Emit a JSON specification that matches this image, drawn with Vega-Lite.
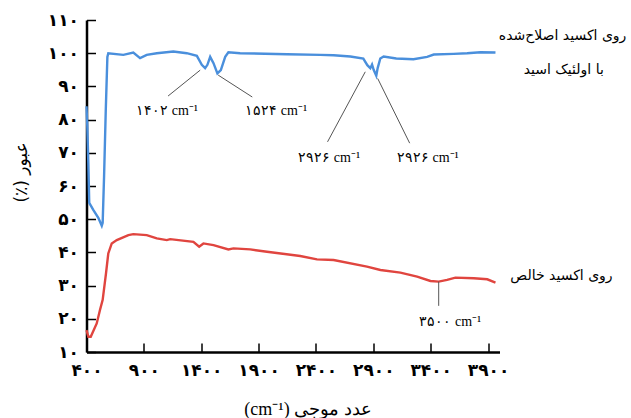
{
  "$schema": "https://vega.github.io/schema/vega-lite/v6.json",
  "autosize": {"type": "none"},
  "padding": {"left": 86.5, "top": 20, "right": 131.5, "bottom": 66},
  "width": 413,
  "height": 332,
  "config": {
    "view": {"stroke": null},
    "locale": {
      "number": {
        "decimal": ".",
        "thousands": "",
        "grouping": [3],
        "currency": ["", ""],
        "numerals": ["۰", "۱", "۲", "۳", "۴", "۵", "۶", "۷", "۸", "۹"]
      }
    }
  },
  "datasets": {
    "spectra": [
      {"wavenumber": 400, "transmittance": 84.0, "sample": "oleic"},
      {"wavenumber": 407, "transmittance": 78.0, "sample": "oleic"},
      {"wavenumber": 416, "transmittance": 66.9, "sample": "oleic"},
      {"wavenumber": 424, "transmittance": 54.9, "sample": "oleic"},
      {"wavenumber": 459, "transmittance": 52.8, "sample": "oleic"},
      {"wavenumber": 503, "transmittance": 50.4, "sample": "oleic"},
      {"wavenumber": 533, "transmittance": 48.0, "sample": "oleic"},
      {"wavenumber": 541, "transmittance": 48.9, "sample": "oleic"},
      {"wavenumber": 553, "transmittance": 62.7, "sample": "oleic"},
      {"wavenumber": 568, "transmittance": 82.9, "sample": "oleic"},
      {"wavenumber": 582, "transmittance": 98.9, "sample": "oleic"},
      {"wavenumber": 590, "transmittance": 100.0, "sample": "oleic"},
      {"wavenumber": 721, "transmittance": 99.5, "sample": "oleic"},
      {"wavenumber": 808, "transmittance": 100.2, "sample": "oleic"},
      {"wavenumber": 867, "transmittance": 98.5, "sample": "oleic"},
      {"wavenumber": 925, "transmittance": 99.5, "sample": "oleic"},
      {"wavenumber": 1013, "transmittance": 100.0, "sample": "oleic"},
      {"wavenumber": 1157, "transmittance": 100.5, "sample": "oleic"},
      {"wavenumber": 1274, "transmittance": 100.0, "sample": "oleic"},
      {"wavenumber": 1362, "transmittance": 99.2, "sample": "oleic"},
      {"wavenumber": 1405, "transmittance": 96.5, "sample": "oleic"},
      {"wavenumber": 1434, "transmittance": 95.5, "sample": "oleic"},
      {"wavenumber": 1454, "transmittance": 96.5, "sample": "oleic"},
      {"wavenumber": 1478, "transmittance": 98.9, "sample": "oleic"},
      {"wavenumber": 1507, "transmittance": 97.0, "sample": "oleic"},
      {"wavenumber": 1541, "transmittance": 93.9, "sample": "oleic"},
      {"wavenumber": 1571, "transmittance": 94.9, "sample": "oleic"},
      {"wavenumber": 1609, "transmittance": 98.9, "sample": "oleic"},
      {"wavenumber": 1637, "transmittance": 100.3, "sample": "oleic"},
      {"wavenumber": 1739, "transmittance": 100.0, "sample": "oleic"},
      {"wavenumber": 2147, "transmittance": 99.7, "sample": "oleic"},
      {"wavenumber": 2438, "transmittance": 99.5, "sample": "oleic"},
      {"wavenumber": 2554, "transmittance": 99.4, "sample": "oleic"},
      {"wavenumber": 2700, "transmittance": 99.0, "sample": "oleic"},
      {"wavenumber": 2813, "transmittance": 98.4, "sample": "oleic"},
      {"wavenumber": 2848, "transmittance": 96.4, "sample": "oleic"},
      {"wavenumber": 2874, "transmittance": 95.5, "sample": "oleic"},
      {"wavenumber": 2889, "transmittance": 96.6, "sample": "oleic"},
      {"wavenumber": 2903, "transmittance": 95.0, "sample": "oleic"},
      {"wavenumber": 2926, "transmittance": 93.2, "sample": "oleic"},
      {"wavenumber": 2938, "transmittance": 95.5, "sample": "oleic"},
      {"wavenumber": 2961, "transmittance": 98.4, "sample": "oleic"},
      {"wavenumber": 2990, "transmittance": 99.0, "sample": "oleic"},
      {"wavenumber": 3100, "transmittance": 98.4, "sample": "oleic"},
      {"wavenumber": 3250, "transmittance": 98.2, "sample": "oleic"},
      {"wavenumber": 3369, "transmittance": 98.9, "sample": "oleic"},
      {"wavenumber": 3427, "transmittance": 99.6, "sample": "oleic"},
      {"wavenumber": 3600, "transmittance": 99.8, "sample": "oleic"},
      {"wavenumber": 3718, "transmittance": 100.0, "sample": "oleic"},
      {"wavenumber": 3834, "transmittance": 100.3, "sample": "oleic"},
      {"wavenumber": 3965, "transmittance": 100.2, "sample": "oleic"},
      {"wavenumber": 400, "transmittance": 16.6, "sample": "pure"},
      {"wavenumber": 416, "transmittance": 14.6, "sample": "pure"},
      {"wavenumber": 437, "transmittance": 14.6, "sample": "pure"},
      {"wavenumber": 489, "transmittance": 18.6, "sample": "pure"},
      {"wavenumber": 518, "transmittance": 22.7, "sample": "pure"},
      {"wavenumber": 541, "transmittance": 25.7, "sample": "pure"},
      {"wavenumber": 570, "transmittance": 33.7, "sample": "pure"},
      {"wavenumber": 590, "transmittance": 39.7, "sample": "pure"},
      {"wavenumber": 620, "transmittance": 42.7, "sample": "pure"},
      {"wavenumber": 664, "transmittance": 43.7, "sample": "pure"},
      {"wavenumber": 765, "transmittance": 45.2, "sample": "pure"},
      {"wavenumber": 808, "transmittance": 45.5, "sample": "pure"},
      {"wavenumber": 925, "transmittance": 45.2, "sample": "pure"},
      {"wavenumber": 1013, "transmittance": 44.2, "sample": "pure"},
      {"wavenumber": 1100, "transmittance": 43.7, "sample": "pure"},
      {"wavenumber": 1129, "transmittance": 44.0, "sample": "pure"},
      {"wavenumber": 1332, "transmittance": 43.2, "sample": "pure"},
      {"wavenumber": 1382, "transmittance": 41.7, "sample": "pure"},
      {"wavenumber": 1419, "transmittance": 42.7, "sample": "pure"},
      {"wavenumber": 1507, "transmittance": 42.2, "sample": "pure"},
      {"wavenumber": 1637, "transmittance": 40.9, "sample": "pure"},
      {"wavenumber": 1681, "transmittance": 41.2, "sample": "pure"},
      {"wavenumber": 1827, "transmittance": 40.9, "sample": "pure"},
      {"wavenumber": 1973, "transmittance": 40.2, "sample": "pure"},
      {"wavenumber": 2263, "transmittance": 38.9, "sample": "pure"},
      {"wavenumber": 2409, "transmittance": 37.9, "sample": "pure"},
      {"wavenumber": 2554, "transmittance": 37.7, "sample": "pure"},
      {"wavenumber": 2845, "transmittance": 35.7, "sample": "pure"},
      {"wavenumber": 2962, "transmittance": 34.7, "sample": "pure"},
      {"wavenumber": 3136, "transmittance": 33.9, "sample": "pure"},
      {"wavenumber": 3282, "transmittance": 32.7, "sample": "pure"},
      {"wavenumber": 3398, "transmittance": 31.4, "sample": "pure"},
      {"wavenumber": 3470, "transmittance": 31.2, "sample": "pure"},
      {"wavenumber": 3543, "transmittance": 31.7, "sample": "pure"},
      {"wavenumber": 3616, "transmittance": 32.4, "sample": "pure"},
      {"wavenumber": 3776, "transmittance": 32.2, "sample": "pure"},
      {"wavenumber": 3893, "transmittance": 31.9, "sample": "pure"},
      {"wavenumber": 3965, "transmittance": 30.9, "sample": "pure"}
    ],
    "peaks": [
      {"x": 1103, "y": 82.6, "text": "۱۴۰۲ cm⁻¹"},
      {"x": 2054, "y": 82.6, "text": "۱۵۲۴ cm⁻¹"},
      {"x": 2516, "y": 68.4, "text": "۲۹۲۶ cm⁻¹"},
      {"x": 3376, "y": 68.4, "text": "۲۹۲۶ cm⁻¹"},
      {"x": 3572, "y": 19.1, "text": "۳۵۰۰ cm⁻¹"}
    ],
    "series": [
      {"x": 4550, "y": 105.2, "text": "روی اکسید اصلاح‌شده"},
      {"x": 4560, "y": 94.9, "text": "با اولئیک اسید"},
      {"x": 4540, "y": 32.9, "text": "روی اکسید خالص"}
    ],
    "leaders": [
      {"x": 1111, "y": 87.1, "x2": 1391, "y2": 94.9},
      {"x": 1548, "y": 93.4, "x2": 1845, "y2": 86.8},
      {"x": 2830, "y": 94.4, "x2": 2501, "y2": 73.3},
      {"x": 2938, "y": 92.4, "x2": 3217, "y2": 72.9},
      {"x": 3470, "y": 31.2, "x2": 3470, "y2": 23.9}
    ]
  },
  "layer": [
    {
      "data": {"name": "spectra"},
      "mark": {"type": "line", "strokeWidth": 2.4, "clip": false},
      "encoding": {
        "x": {
          "field": "wavenumber",
          "type": "quantitative",
          "scale": {"domain": [400, 4000], "nice": false, "zero": false},
          "axis": {
            "values": [400, 900, 1400, 1900, 2400, 2900, 3400, 3900],
            "tickCount": 8,
            "title": "(cm⁻¹) عدد موجی",
            "titleFont": "Liberation Serif",
            "titleFontSize": 18,
            "titleFontWeight": "normal",
            "titleColor": "black",
            "titleX": 221,
            "titleY": 57,
            "titleAlign": "center",
            "titleBaseline": "middle",
            "grid": false,
            "domainColor": "black",
            "domainWidth": 2.5,
            "tickColor": "black",
            "tickWidth": 1.5,
            "tickSize": -9,
            "labelFont": "DejaVu Sans",
            "labelFontSize": 17,
            "labelFontWeight": "bold",
            "labelColor": "black",
            "labelPadding": 19,
            "labelFlush": false,
            "labelOverlap": false
          }
        },
        "y": {
          "field": "transmittance",
          "type": "quantitative",
          "scale": {"domain": [10, 110], "nice": false, "zero": false},
          "axis": {
            "values": [10, 20, 30, 40, 50, 60, 70, 80, 90, 100, 110],
            "tickCount": 11,
            "title": "(٪) عبور",
            "titleFont": "DejaVu Sans",
            "titleFontSize": 17,
            "titleFontWeight": "normal",
            "titleColor": "black",
            "titleX": -65,
            "titleY": 152,
            "titleAngle": -90,
            "titleAlign": "center",
            "titleBaseline": "middle",
            "grid": false,
            "domainColor": "black",
            "domainWidth": 2.5,
            "tickColor": "black",
            "tickWidth": 1.5,
            "tickSize": -9,
            "labelFont": "DejaVu Sans",
            "labelFontSize": 17,
            "labelFontWeight": "bold",
            "labelColor": "black",
            "labelPadding": 17,
            "labelFlush": false,
            "labelOverlap": false
          }
        },
        "color": {
          "field": "sample",
          "type": "nominal",
          "scale": {"domain": ["oleic", "pure"], "range": ["#4a8fdc", "#e0453f"]},
          "legend": null
        }
      }
    },
    {
      "data": {"name": "leaders"},
      "mark": {"type": "rule", "color": "#555555", "strokeWidth": 1, "clip": false},
      "encoding": {
        "x": {"field": "x", "type": "quantitative"},
        "y": {"field": "y", "type": "quantitative"},
        "x2": {"field": "x2"},
        "y2": {"field": "y2"}
      }
    },
    {
      "data": {"name": "peaks"},
      "mark": {"type": "text", "font": "Liberation Serif", "fontSize": 14, "color": "black", "align": "center", "baseline": "middle"},
      "encoding": {
        "x": {"field": "x", "type": "quantitative"},
        "y": {"field": "y", "type": "quantitative"},
        "text": {"field": "text"}
      }
    },
    {
      "data": {"name": "series"},
      "mark": {"type": "text", "font": "DejaVu Sans", "fontSize": 14, "color": "black", "align": "center", "baseline": "middle"},
      "encoding": {
        "x": {"field": "x", "type": "quantitative"},
        "y": {"field": "y", "type": "quantitative"},
        "text": {"field": "text"}
      }
    }
  ]
}
